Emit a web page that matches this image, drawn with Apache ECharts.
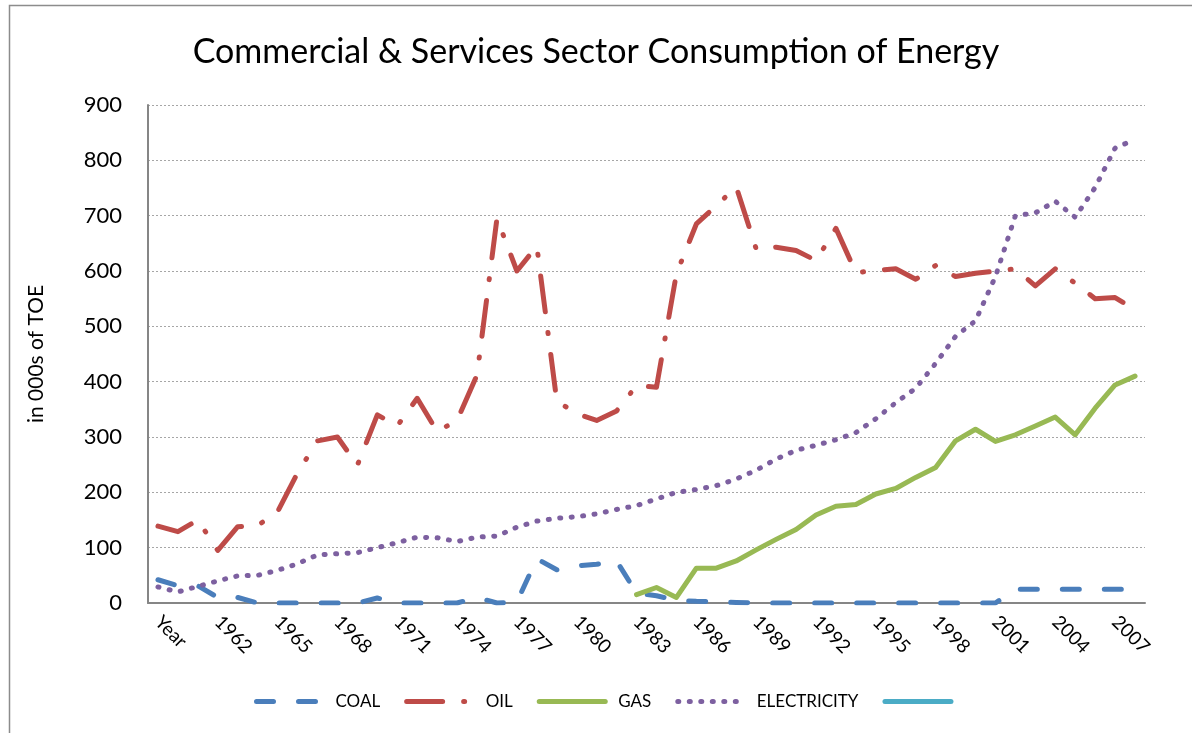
<!DOCTYPE html>
<html>
<head>
<meta charset="utf-8">
<title>Commercial & Services Sector Consumption of Energy</title>
<script src="https://cdn.jsdelivr.net/npm/echarts@6/dist/echarts.min.js"></script>
<style>
  html, body { margin: 0; padding: 0; background: #fff; }
  #chart { width: 1192px; height: 733px; }
</style>
</head>
<body>
<div id="chart"></div>
<script>
// categories (last one has no label shown, like the original)
const years = ['Year', '1960', '1961', '1962', '1963', '1964', '1965', '1966', '1967', '1968',
  '1969', '1970', '1971', '1972', '1973', '1974', '1975', '1976', '1977', '1978',
  '1979', '1980', '1981', '1982', '1983', '1984', '1985', '1986', '1987', '1988',
  '1989', '1990', '1991', '1992', '1993', '1994', '1995', '1996', '1997', '1998',
  '1999', '2000', '2001', '2002', '2003', '2004', '2005', '2006', '2007', '2008']

const coal = [42, 31, 31, 10, 10, 0, 0, 0, 0, 0, 0, 9, 0,
  0, 0, 0, 10, 0, 2, 80, 60, 67, 70, 76,
  18, 13, 5, 3, 2, 1, 0, 0, 0, 0, 0, 0,
  0, 0, 0, 0, 0, 0, 0,
  25, 25, 25, 25, 25, 25, 25]

const oil = [139, 129, 150, 95, 138, 140, 165, 235, 293, 300, 249, 340, 320,
  370, 310, 330, 412, 695, 600, 645, 365, 342, 330, 347, 393,
  390, 595, 685, 718, 752, 640, 643, 637, 619, 677, 597, 601,
  604, 585, 610, 590, 596, 600, 604, 573, 604, 578, 550, 552, 530]

const gas = [null, null, null, null, null, null, null, null, null, null, null, null,
  null, null, null, null, null, null, null, null, null, null, null, null,
  15, 28, 10, 63, 63, 76, 96, 115, 133, 159, 175, 178, 197, 207, 227,
  245, 293, 314, 292, 304, 320, 336, 304, 352, 394, 410]

const electricity = [29, 20, 30, 40, 49, 50, 59, 71, 87, 89, 91, 100, 109,
  119, 118, 111, 119, 121, 137, 148, 153, 156, 161, 169, 176,
  188, 200, 205, 212, 224, 240, 260, 276, 285, 295, 308, 333,
  362, 388, 433, 482, 510, 590, 700, 705, 726, 697, 751, 822, 838]

const empty = []

const font = 'Lato'
const chart = echarts.init(document.getElementById('chart'))

chart.setOption({
  backgroundColor: '#fff',
  animation: false,
  graphic: [{
    type: 'rect',
    shape: { x: 9.5, y: 5.5, width: 1190, height: 740 },
    style: { fill: 'none', stroke: '#8c8c8c', lineWidth: 1.5 },
    silent: true
  }],
  title: {
    text: 'Commercial & Services Sector Consumption of Energy',
    left: 'center',
    top: 30,
    textStyle: {
      fontFamily: font,
      fontWeight: 'normal',
      fontSize: 34,
      color: '#000'
    }
  },
  legend: {
    left: 249,
    top: 688,
    itemWidth: 66,
    itemHeight: 20,
    itemGap: 24,
    data: ['COAL', 'OIL', 'GAS', 'ELECTRICITY', ' '],
    itemStyle: { opacity: 0 },
    lineStyle: { width: 5 },
    textStyle: {
      fontFamily: font,
      fontSize: 17,
      color: '#000',
      padding: [0, 0, 0, 8]
    }
  },
  grid: {
    left: 148,
    right: 47,
    top: 105,
    bottom: 130
  },
  xAxis: {
    type: 'category',
    boundaryGap: true,
    data: years,
    axisLine: {
      lineStyle: { color: '#868686', width: 2 }
    },
    axisTick: { show: false },
    axisLabel: {
      interval: 2,
      rotate: -45,
      margin: 16,
      fontFamily: font,
      fontSize: 19,
      color: '#000'
    }
  },
  yAxis: {
    type: 'value',
    min: 0,
    max: 900,
    interval: 100,
    name: 'in 000s of TOE',
    nameLocation: 'middle',
    nameGap: 101,
    nameTextStyle: {
      fontFamily: font,
      fontSize: 21,
      color: '#000'
    },
    axisLine: {
      show: true,
      lineStyle: { color: '#868686', width: 2 }
    },
    axisTick: { show: false },
    axisLabel: {
      margin: 26,
      fontFamily: font,
      fontSize: 22,
      color: '#000'
    },
    splitLine: {
      lineStyle: { color: '#a6a6a6', width: 1, type: [2, 2] }
    }
  },
  series: [{
    name: 'COAL',
    type: 'line',
    symbol: 'none',
    data: coal,
    itemStyle: { color: '#4a7ebb' },
    lineStyle: { color: '#4a7ebb', width: 5, type: [17, 25], cap: 'round', join: 'round' }
  }, {
    name: 'OIL',
    type: 'line',
    symbol: 'none',
    data: oil,
    itemStyle: { color: '#be4b48' },
    lineStyle: { color: '#be4b48', width: 5, type: [36, 21, 1, 21], cap: 'round', join: 'round' }
  }, {
    name: 'GAS',
    type: 'line',
    symbol: 'none',
    data: gas,
    itemStyle: { color: '#98b954' },
    lineStyle: { color: '#98b954', width: 5, cap: 'round', join: 'round' }
  }, {
    name: 'ELECTRICITY',
    type: 'line',
    symbol: 'none',
    data: electricity,
    itemStyle: { color: '#7d60a0' },
    lineStyle: { color: '#7d60a0', width: 5, type: [1, 10.5], cap: 'round', join: 'round' }
  }, {
    name: ' ',
    type: 'line',
    symbol: 'none',
    data: empty,
    itemStyle: { color: '#4bacc6' },
    lineStyle: { color: '#4bacc6', width: 5, cap: 'round' }
  }]
})
</script>
</body>
</html>
